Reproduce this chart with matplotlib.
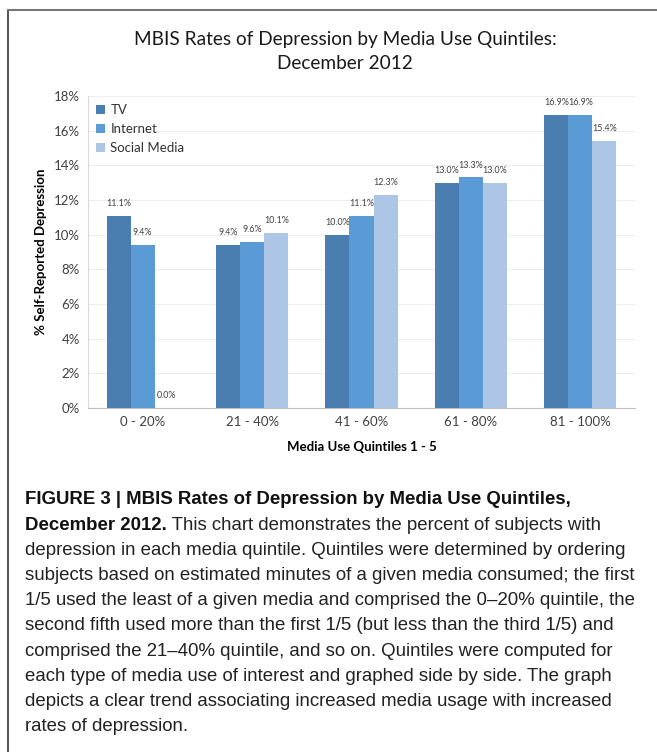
import numpy as np
import matplotlib.pyplot as plt
from matplotlib.ticker import FuncFormatter

# data
quintiles = ['0 - 20%', '21 - 40%', '41 - 60%', '61 - 80%', '81 - 100%']
tv = [11.1, 9.4, 10.0, 13.0, 16.9]
internet = [9.4, 9.6, 11.1, 13.3, 16.9]
social = [0.0, 10.1, 12.3, 13.0, 15.4]
series_names = ['TV', 'Internet', 'Social Media']
colors = ['#4A7EB0', '#5B9BD5', '#ADC6E5']

caption_bold1 = 'FIGURE 3 | MBIS Rates of Depression by Media Use Quintiles,'
caption_bold2 = 'December 2012.'
caption_rest = [' This chart demonstrates the percent of subjects with',
                'depression in each media quintile. Quintiles were determined by ordering',
                'subjects based on estimated minutes of a given media consumed; the first',
                '1/5 used the least of a given media and comprised the 0\u201320% quintile, the',
                'second fifth used more than the first 1/5 (but less than the third 1/5) and',
                'comprised the 21\u201340% quintile, and so on. Quintiles were computed for',
                'each type of media use of interest and graphed side by side. The graph',
                'depicts a clear trend associating increased media usage with increased',
                'rates of depression.']

chart_font = ['Lato', 'DejaVu Sans']
cap_font = ['Liberation Sans', 'DejaVu Sans']

fig = plt.figure(figsize=(6.57, 7.52), dpi=100)
ax = fig.add_axes([0.134, 0.4574, 0.8325, 0.4149])

x = np.arange(len(quintiles))
w = 0.22
for i, (vals, name) in enumerate(zip([tv, internet, social], series_names)):
    pos = x + (i - 1) * w
    ax.bar(pos, vals, width=w, color=colors[i], label=name, zorder=3)
    for px, v in zip(pos, vals):
        ax.text(px, v + 0.45, f'{v:.1f}%', ha='center', va='bottom',
                fontsize=6.4, color='#404040', family=chart_font)

ax.set_xlim(-0.5, 4.5)
ax.set_ylim(0, 18)
ax.set_yticks(np.arange(0, 19, 2))
ax.yaxis.set_major_formatter(FuncFormatter(lambda v, p: f'{v:.0f}%'))
ax.set_xticks(x)
ax.set_xticklabels(quintiles)
ax.tick_params(axis='both', length=0, labelsize=9.5, colors='#404040', pad=6)
for lab in ax.get_xticklabels() + ax.get_yticklabels():
    lab.set_family(chart_font)
ax.grid(axis='y', color='#EDEDED', linewidth=0.8, zorder=0)
for s in ['top', 'right']:
    ax.spines[s].set_visible(False)
ax.spines['left'].set_color('#D9D9D9')
ax.spines['bottom'].set_color('#BFBFBF')

ax.set_xlabel('Media Use Quintiles 1 - 5', fontsize=9.5, fontweight='bold',
              family=chart_font, labelpad=9)
ax.set_ylabel('% Self-Reported Depression', fontsize=9.5, fontweight='bold',
              family=chart_font, labelpad=5)

leg = ax.legend(loc='upper left', frameon=False, handlelength=0.7,
                handleheight=0.7, handletextpad=0.4, labelspacing=0.55,
                prop={'family': chart_font, 'size': 9.5}, borderaxespad=0.2)
for t in leg.get_texts():
    t.set_color('#333333')

fig.text(0.525, 0.947, 'MBIS Rates of Depression by Media Use Quintiles:',
         ha='center', va='center', fontsize=13.7, family=chart_font, color='#1A1A1A')
fig.text(0.525, 0.916, 'December 2012', ha='center', va='center',
         fontsize=13.7, family=chart_font, color='#1A1A1A')

# border lines on top and left
fig.add_artist(plt.Line2D([8 / 657, 8 / 657], [0, 1 - 10 / 752],
                          transform=fig.transFigure, color='#333333', lw=1.2))
fig.add_artist(plt.Line2D([8 / 657, 1], [1 - 10 / 752, 1 - 10 / 752],
                          transform=fig.transFigure, color='#777777', lw=1.5))

# caption
x0 = 25 / 657
y0 = 1 - 500 / 752
dy = 25.2 / 752
fs = 13.4
fig.text(x0, y0, caption_bold1, fontsize=fs, fontweight='bold', family=cap_font,
         va='center', color='#111111')
t2 = fig.text(x0, y0 - dy, caption_bold2, fontsize=fs, fontweight='bold',
              family=cap_font, va='center', color='#111111')
fig.canvas.draw()
bb = t2.get_window_extent(fig.canvas.get_renderer())
fig.text(bb.x1 / fig.bbox.width, y0 - dy, caption_rest[0], fontsize=fs,
         family=cap_font, va='center', color='#222222')
for k, line in enumerate(caption_rest[1:]):
    fig.text(x0, y0 - dy * (k + 2), line, fontsize=fs, family=cap_font,
             va='center', color='#222222')

fig.savefig('out.png', dpi=100)
